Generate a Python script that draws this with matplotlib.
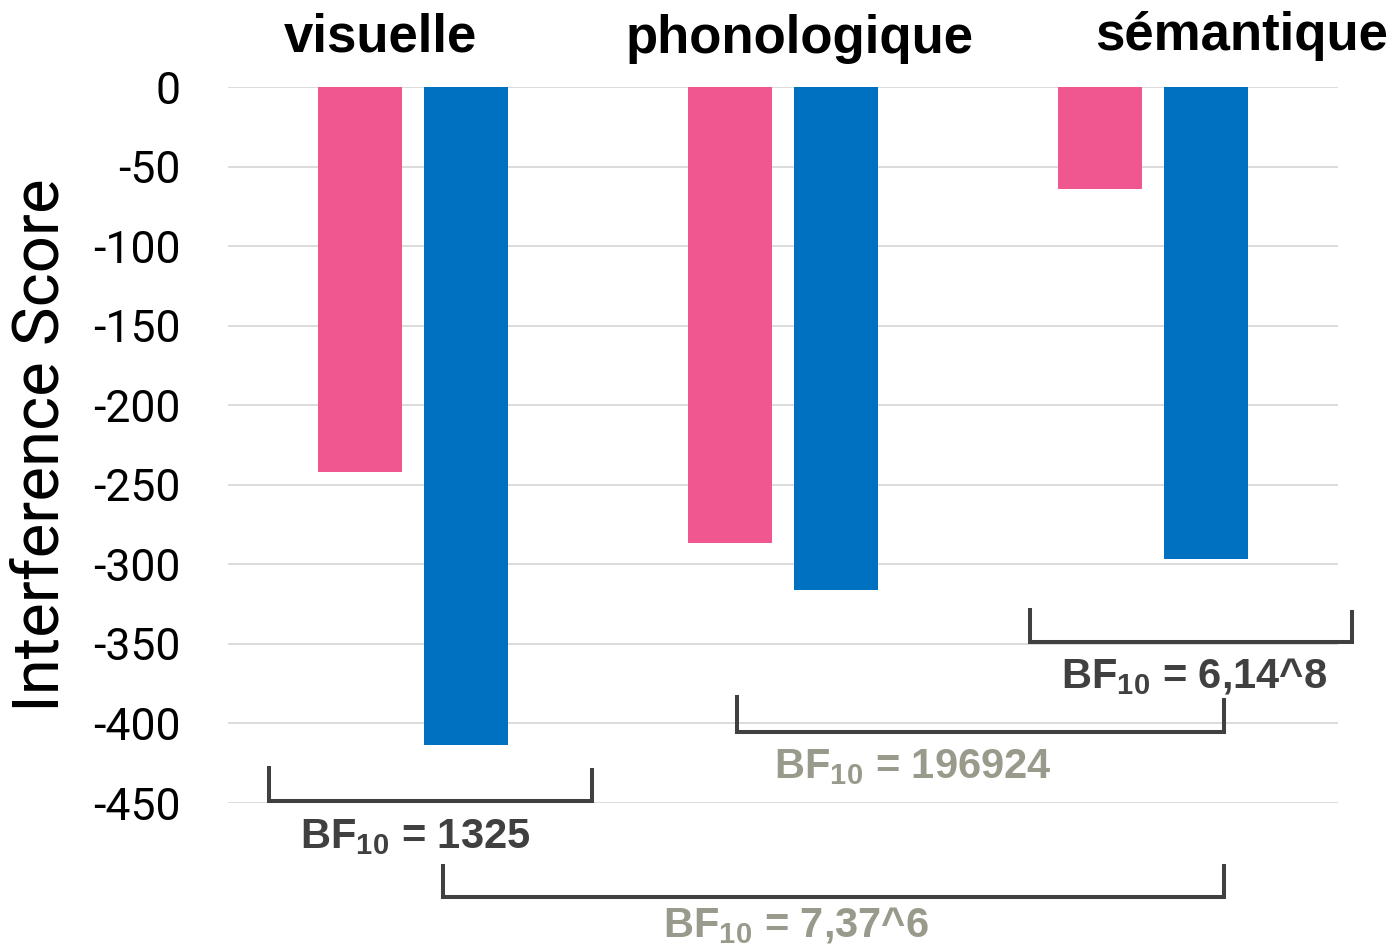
import matplotlib
matplotlib.use("Agg")
import matplotlib.pyplot as plt

# ---- data ----
categories = ["visuelle", "phonologique", "sémantique"]
pink_values = [-242, -286.5, -64]
blue_values = [-413.5, -316, -296.5]
yticks = [0, -50, -100, -150, -200, -250, -300, -350, -400, -450]
ytick_labels = ["0", "-50", "-100", "-150", "-200", "-250", "-300", "-350", "-400", "-450"]
bf_labels = ["BF$_{10}$ = 1325", "BF$_{10}$ = 7,37^6", "BF$_{10}$ = 196924", "BF$_{10}$ = 6,14^8"]

plt.rcParams['mathtext.fontset'] = 'custom'
plt.rcParams['mathtext.rm'] = 'Liberation Sans:bold'
plt.rcParams['mathtext.it'] = 'Liberation Sans:bold'
plt.rcParams['mathtext.bf'] = 'Liberation Sans:bold'
plt.rcParams['mathtext.default'] = 'rm'

PINK = "#F0568F"
BLUE = "#0070C0"
DARK = "#404040"
BEIGE = "#9A9A8C"

fig = plt.figure(figsize=(13.98, 9.48), dpi=100)
ax = fig.add_axes([228/1398, 1-803/948, 1110/1398, 716/948])

x = list(range(len(categories)))
w = 0.227
off = 0.143
ax.bar([i - off for i in x], pink_values, width=w, color=PINK, zorder=3)
ax.bar([i + off for i in x], blue_values, width=w, color=BLUE, zorder=3)

ax.set_xlim(-0.5, 2.5)
ax.set_ylim(-450, 0)
ax.set_yticks(yticks)
ax.set_yticklabels(ytick_labels, fontsize=32, fontfamily="Roboto")
ax.set_xticks([])
ax.tick_params(axis='y', length=0, pad=34)
for s in ax.spines.values():
    s.set_visible(False)
ax.yaxis.grid(True, color="#D9D9D9", linewidth=1.3, zorder=0)
ax.set_axisbelow(True)

ax.set_ylabel("Interference Score", fontsize=47, fontfamily="Roboto")
ax.yaxis.set_label_coords(-0.141, 0.5)

# category labels on top
cat_x = [-0.089, 1.046, 2.24]
cat_y = [22.6, 21.4, 23.3]
for cx, cy, lab in zip(cat_x, cat_y, categories):
    ax.text(cx, cy, lab, ha='center', va='baseline', fontsize=38,
            fontweight='bold', fontfamily="Liberation Sans", clip_on=False)

# brackets
def bracket(x0, x1, yb, yt0, yt1):
    ax.plot([x0, x0, x1, x1], [yt0, yb, yb, yt1], color=DARK, linewidth=2.9,
            clip_on=False, solid_joinstyle='miter', zorder=4)

bracket(-0.389, 0.484, -448.7, -428, -429)
bracket(0.081, 2.192, -509, -489.6, -489.6)
bracket(0.876, 2.192, -405.4, -383.4, -385)
bracket(1.668, 2.538, -348.8, -328.7, -330)

bf_pos = [(0.005, -478.3, DARK), (1.035, -534.2, BEIGE), (1.351, -434.3, BEIGE), (2.111, -377.7, DARK)]
for (bx, by, c), lab in zip(bf_pos, bf_labels):
    ax.text(bx, by, lab, ha='center', va='baseline', fontsize=30,
            fontweight='bold', fontfamily="Liberation Sans", color=c, clip_on=False)

fig.savefig("out.png", dpi=100)
